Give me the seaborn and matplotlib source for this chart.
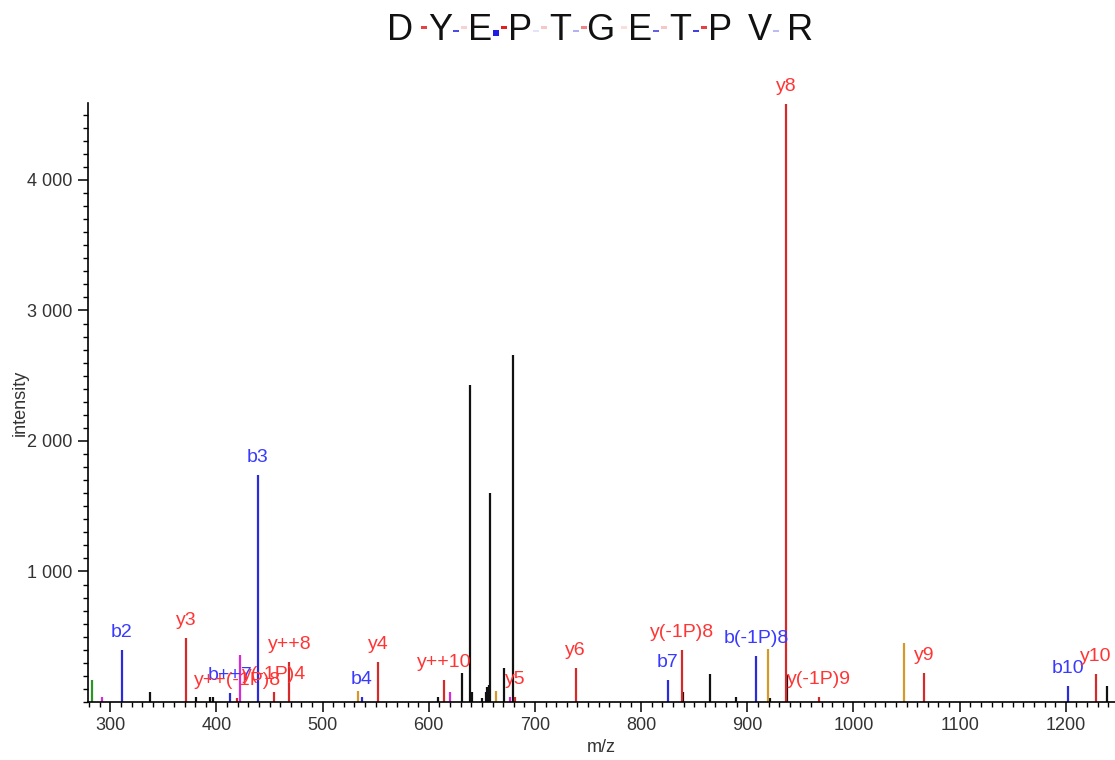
import numpy as np
import pandas as pd
import matplotlib
matplotlib.use("Agg")
import matplotlib.pyplot as plt
import seaborn as sns
from matplotlib.ticker import MultipleLocator, FuncFormatter, FixedLocator
from matplotlib.patches import Rectangle

# ---------------- data ----------------
sequence = list("DYEPTGETPVR")
# relative strength of b / y fragment marks between residues (title)
b_marks = [0.0, 0.8, 1.0, 0.12, 0.35, 0.0, 0.7, 0.85, 0.0, 0.3]
y_marks = [0.85, 0.2, 1.0, 0.25, 0.55, 0.15, 0.25, 0.85, 0.0, 0.0]

b_labels = ["b2", "b++7", "b3", "b4", "b7", "b(-1P)8", "b10"]
b_mz = [310.7, 412.7, 438.8, 536.7, 825.0, 908.2, 1201.8]
b_int = [398, 71, 1740, 38, 169, 352, 123]

y_labels = ["y3", "y++(-1P)8", "y(-1P)4", "y++8", "y4", "y++10", "y5", "y6",
            "y(-1P)8", "y8", "y(-1P)9", "y9", "y10"]
y_mz = [371.2, 419.7, 454.2, 468.7, 552.2, 614.3, 681.3, 738.3,
        838.4, 936.4, 967.8, 1066.4, 1228.4]
y_int = [493, 30, 79, 309, 309, 169, 40, 263, 398, 4585, 41, 220, 212]

other_mz = [337.3, 380.7, 393.8, 397.0, 609.0, 631.0, 638.8, 640.4, 649.9,
            653.5, 655.0, 656.6, 657.6, 670.5, 679.5, 839.7, 864.5, 889.0,
            921.4, 937.6, 1239.0]
other_int = [79, 38, 38, 38, 36, 220, 2429, 79, 30, 79, 113, 130, 1600, 263,
             2659, 79, 215, 41, 33, 207, 123]

orange_mz = [533.0, 663.2, 919.2, 1047.6]
orange_int = [87, 87, 404, 450]
magenta_mz = [291.8, 422.1, 620.0, 676.4]
magenta_int = [36, 360, 74, 36]
green_mz = [282.4]
green_int = [169]

x_ticks = [300, 400, 500, 600, 700, 800, 900, 1000, 1100, 1200]
y_ticks = [1000, 2000, 3000, 4000]

# ---------------- style ----------------
sns.set_style("ticks")
plt.rcParams["font.family"] = ["Liberation Sans", "DejaVu Sans"]

colors = {"other": "#111111", "b": "#2b2bd9", "y": "#d42a2a",
          "orange": "#d39a2a", "magenta": "#d62ad6", "green": "#2a962a"}
label_colors = {"b": "#3a3aff", "y": "#ff3535"}

frames = [
    pd.DataFrame({"mz": other_mz, "intensity": other_int, "kind": "other", "label": ""}),
    pd.DataFrame({"mz": green_mz, "intensity": green_int, "kind": "green", "label": ""}),
    pd.DataFrame({"mz": magenta_mz, "intensity": magenta_int, "kind": "magenta", "label": ""}),
    pd.DataFrame({"mz": orange_mz, "intensity": orange_int, "kind": "orange", "label": ""}),
    pd.DataFrame({"mz": b_mz, "intensity": b_int, "kind": "b", "label": b_labels}),
    pd.DataFrame({"mz": y_mz, "intensity": y_int, "kind": "y", "label": y_labels}),
]
df = pd.concat(frames, ignore_index=True)

W, H = 1115, 760
fig = plt.figure(figsize=(W / 100, H / 100), dpi=100)
ax = fig.add_axes([88 / W, 58 / H, (W - 88) / W, 599 / H])

for kind, sub in df.groupby("kind", sort=False):
    ax.vlines(sub["mz"], 0, sub["intensity"], color=colors[kind], linewidth=1.6)

for _, r in df[df["label"] != ""].iterrows():
    ax.annotate(r["label"], (r["mz"], r["intensity"]), xytext=(0, 12.5),
                textcoords="offset points", ha="center", va="center",
                fontsize=14, color=label_colors[r["kind"]], annotation_clip=False)

ax.set_xlim(279.0, 1246.3)
ax.set_ylim(0, 4590)
sns.despine(ax=ax)
for s in ["left", "bottom"]:
    ax.spines[s].set_linewidth(1.2)
    ax.spines[s].set_color("black")

ax.xaxis.set_major_locator(FixedLocator(x_ticks))
ax.xaxis.set_minor_locator(MultipleLocator(10))
ax.yaxis.set_major_locator(FixedLocator(y_ticks))
ax.yaxis.set_minor_locator(MultipleLocator(100))
ax.yaxis.set_major_formatter(FuncFormatter(lambda v, p: f"{int(v):,}".replace(",", " ")))
ax.tick_params(which="major", direction="out", length=7.5, width=1.1,
               labelsize=13, labelcolor="#333333", color="black")
ax.tick_params(which="minor", direction="out", length=3.5, width=1.0, color="black")

ax.set_xlabel("m/z", fontsize=13, color="#333333")
ax.set_ylabel("intensity", fontsize=13, color="#333333")
ax.xaxis.set_label_coords(0.5, -0.062)
ax.yaxis.set_label_coords(-0.058, 0.5)

# ---------------- sequence title with fragment marks ----------------
tax = fig.add_axes([0, 1 - 60 / H, 1, 60 / H])
tax.set_xlim(0, W)
tax.set_ylim(60, 0)
tax.axis("off")
center = 600
step = 40
n = len(sequence)
for i, aa in enumerate(sequence):
    x = center + (i - (n - 1) / 2) * step
    tax.text(x, 31, aa, ha="center", va="center", fontsize=26, color="#111111")
for i in range(n - 1):
    gx = center + (i + 0.5 - (n - 1) / 2) * step
    if b_marks[i] > 0:
        h = 6 if b_marks[i] >= 1 else 2
        tax.add_patch(Rectangle((gx - 7, 30), 6, h, color="#2020e0",
                                alpha=b_marks[i], linewidth=0))
    if y_marks[i] > 0:
        tax.add_patch(Rectangle((gx + 1, 26), 6, 2.5, color="#e02020",
                                alpha=y_marks[i], linewidth=0))

fig.savefig("out.png", dpi=100)
